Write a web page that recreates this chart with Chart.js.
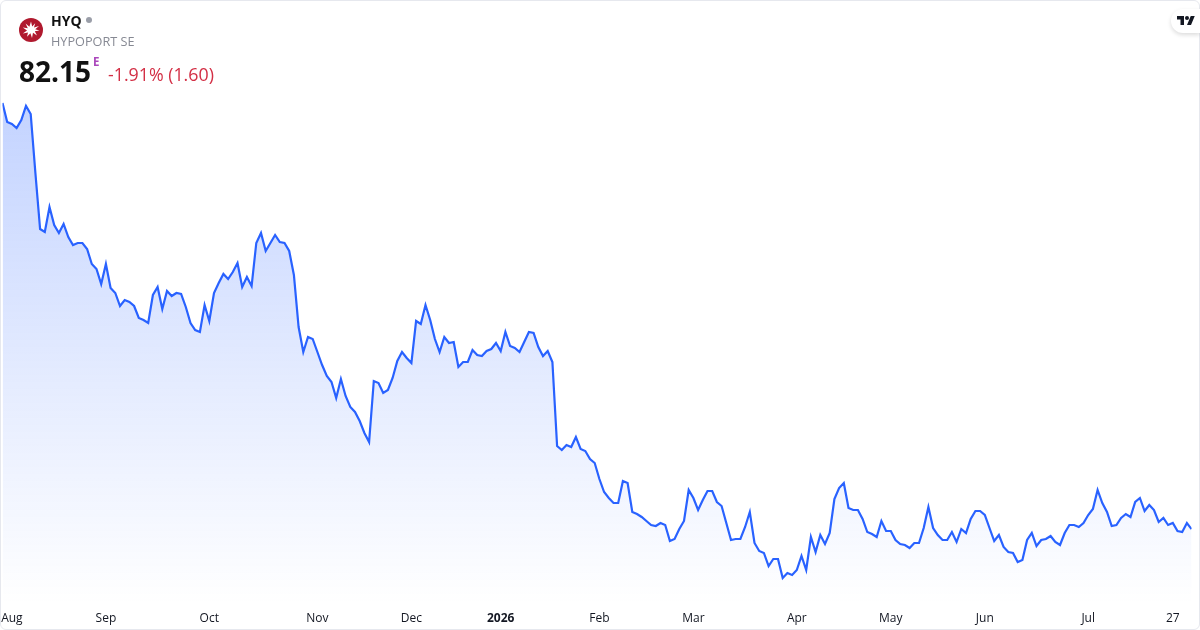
<!DOCTYPE html>
<html><head><meta charset="utf-8">
<script src="https://cdn.jsdelivr.net/npm/chart.js@4"></script>
<style>
html,body{margin:0;padding:0;background:#fff;width:1200px;height:630px;overflow:hidden;font-family:"Open Sans",sans-serif}
#card{position:absolute;left:0;top:0;width:1198px;height:628px;border:1px solid #e6e8ee;border-radius:6px}
canvas{position:absolute;left:0;top:0}
.t{position:absolute;white-space:nowrap;line-height:1}
</style></head><body>
<canvas id="c" width="1200" height="630"></canvas>
<div id="card"></div>
<svg style="position:absolute;left:19px;top:18px" width="24" height="24" viewBox="0 0 24 24">
<circle cx="12" cy="12" r="12" fill="#b0192e"/>
<polygon fill="#fff" points="12,3.5 13.2,8.6 16.2,5.2 15,9.6 20,8 16.2,11.2 20.5,12.6 15.8,13.2 18,17.6 14,14.8 13,20 11.4,15.2 8,18.8 9,14.4 3.8,15.4 8,12.4 3.8,9.6 8.8,10.2 6.6,5.6 10.4,8.8"/>
</svg>
<div class="t" style="left:51px;top:14px;font-size:14px;font-weight:700;color:#111">HYQ</div>
<div style="position:absolute;left:86px;top:17px;width:6px;height:6px;border-radius:50%;background:#9a9ea8"></div>
<div class="t" style="left:51px;top:35px;font-size:12.7px;color:#868993">HYPOPORT SE</div>
<div class="t" style="left:19px;top:57px;font-size:28px;font-weight:700;color:#111">82.15</div>
<div class="t" style="left:93px;top:56px;font-size:11.5px;font-weight:700;color:#ab47bc">E</div>
<div class="t" style="left:108px;top:66px;font-size:17.8px;color:#d32f45">-1.91% (1.60)</div>
<div style="position:absolute;left:1171px;top:9px;width:29px;height:24px;background:#fff;border-radius:12px 0 0 12px;box-shadow:0 2px 4px rgba(0,0,0,.14)"></div>
<svg style="position:absolute;left:1177px;top:14px" width="18" height="14" viewBox="0 0 36 28"><path fill="#131722" d="M14 22H7V11H0V4h14v18zM28 22h-8l7.5-18h8L28 22z"/><circle fill="#131722" cx="20" cy="8" r="4"/></svg>
<script>
const closes = [
210.0,204.3,203.7,202.5,204.9,209.1,206.7,189.0,172.2,171.3,178.8,173.4,171.0,173.7,169.8,167.4,168.0,168.0,166.2,161.7,
160.2,155.7,161.7,154.5,153.0,149.1,150.9,150.3,149.1,145.5,144.9,144.0,152.4,154.8,148.2,153.6,152.1,153.0,152.7,148.8,
144.0,141.9,141.3,149.4,144.6,153.0,156.0,158.7,157.2,159.3,162.0,154.8,157.8,155.1,168.0,171.0,165.6,168.0,170.4,168.3,
168.0,165.6,158.4,142.8,135.3,139.8,139.2,135.3,131.4,128.1,126.3,121.5,127.2,122.1,118.8,117.3,114.6,111.0,108.3,126.6,
126.0,123.0,123.9,127.5,132.6,135.3,133.5,132.0,144.6,143.7,149.4,144.9,139.2,135.3,139.8,138.0,138.3,130.8,132.3,132.3,
135.9,134.4,134.1,135.6,136.2,138.0,135.6,141.3,137.1,136.5,135.3,138.3,141.3,141.0,136.8,134.1,135.6,132.3,107.1,105.9,
107.4,106.8,109.8,106.2,105.6,103.2,102.0,97.2,93.3,91.5,90.0,90.0,96.6,96.0,87.3,86.7,85.8,84.6,83.4,83.1,
84.0,83.4,78.6,79.2,82.2,84.6,93.9,91.5,87.9,90.9,93.6,93.6,90.3,89.1,84.0,78.9,79.2,79.2,82.8,87.3,
78.0,75.6,75.0,71.1,73.2,73.2,67.5,69.0,68.4,69.9,74.1,69.9,79.8,75.3,80.4,77.7,81.0,91.2,94.5,96.0,
88.5,87.9,87.9,85.2,81.3,80.7,79.8,84.6,81.6,81.6,78.9,77.7,77.4,76.5,78.0,78.0,82.5,88.8,82.5,80.4,
78.9,78.9,81.3,78.3,82.2,81.0,85.2,87.6,87.6,86.4,82.5,78.6,80.4,76.8,75.3,75.0,72.3,72.9,78.9,81.0,
77.1,78.9,79.2,80.1,78.3,77.4,81.0,83.4,83.4,82.8,84.0,86.4,88.2,93.9,90.0,87.3,83.1,83.4,85.5,86.7,
85.8,90.3,91.5,87.6,89.4,87.9,84.3,85.5,83.4,84.0,81.6,81.3,84.0,82.15];
const tickIndices = [2,22,44,67,87,106,127,147,169,189,209,231,249];
const tickLabels = ["Aug","Sep","Oct","Nov","Dec","2026","Feb","Mar","Apr","May","Jun","Jul","27"];
const points = closes.map((v,i)=>({x:i,y:v}));

new Chart(document.getElementById('c'),{
  type:'line',
  data:{datasets:[{
    data:points,
    borderColor:'#2962ff',
    borderWidth:2.2,
    pointRadius:0,
    tension:0,
    fill:'start',
    backgroundColor(ctx){
      const a=ctx.chart.chartArea; if(!a) return 'rgba(41,98,255,.28)';
      const g=ctx.chart.ctx.createLinearGradient(0,103,0,a.bottom);
      g.addColorStop(0,'rgba(41,98,255,0.28)');
      g.addColorStop(1,'rgba(41,98,255,0)');
      return g;
    }
  }]},
  options:{
    responsive:false,animation:false,devicePixelRatio:1,
    layout:{padding:{left:2.5,right:8.4,top:0,bottom:0}},
    plugins:{legend:{display:false},tooltip:{enabled:false}},
    scales:{
      x:{type:'linear',min:0,max:closes.length-1,
        border:{display:false},grid:{display:false,drawTicks:false},
        afterBuildTicks(s){s.ticks=tickIndices.map(v=>({value:v}));},
        afterFit(s){s.height=25;s.paddingLeft=0;s.paddingRight=0;},
        ticks:{autoSkip:false,maxRotation:0,padding:6,color:'#131722',
          callback(v){const i=tickIndices.indexOf(v);return i<0?'':tickLabels[i];},
          font(c){return {family:'"Open Sans"',size:12,weight:(c.tick&&c.tick.label==='2026')?'700':'400'};}
        }},
      y:{display:false,min:59.4,max:240.9}
    }
  }
});
</script>
</body></html>
